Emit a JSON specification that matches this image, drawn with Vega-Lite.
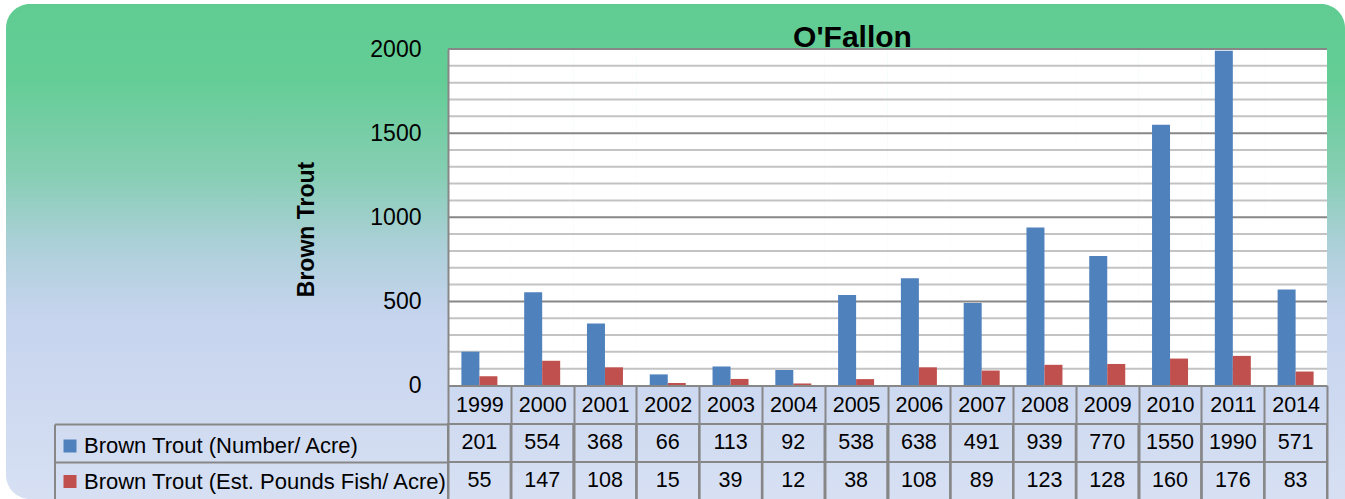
{
  "$schema": "https://vega.github.io/schema/vega-lite/v6.json",
  "width": 1339,
  "height": 495,
  "autosize": {"type": "none"},
  "padding": {"left": 6, "top": 4, "right": 0, "bottom": 0},
  "background": "white",
  "config": {"view": {"stroke": null}, "font": "Liberation Sans"},
  "title": {
    "text": "O'Fallon",
    "anchor": "middle",
    "frame": "group",
    "dx": 177,
    "offset": -73,
    "baseline": "alphabetic",
    "font": "Liberation Sans",
    "fontSize": 30,
    "fontWeight": "bold",
    "color": "black"
  },
  "datasets": {
    "trout": [
      {"year": "1999", "series": "Brown Trout (Number/ Acre)", "value": 201},
      {"year": "1999", "series": "Brown Trout (Est. Pounds Fish/ Acre)", "value": 55},
      {"year": "2000", "series": "Brown Trout (Number/ Acre)", "value": 554},
      {"year": "2000", "series": "Brown Trout (Est. Pounds Fish/ Acre)", "value": 147},
      {"year": "2001", "series": "Brown Trout (Number/ Acre)", "value": 368},
      {"year": "2001", "series": "Brown Trout (Est. Pounds Fish/ Acre)", "value": 108},
      {"year": "2002", "series": "Brown Trout (Number/ Acre)", "value": 66},
      {"year": "2002", "series": "Brown Trout (Est. Pounds Fish/ Acre)", "value": 15},
      {"year": "2003", "series": "Brown Trout (Number/ Acre)", "value": 113},
      {"year": "2003", "series": "Brown Trout (Est. Pounds Fish/ Acre)", "value": 39},
      {"year": "2004", "series": "Brown Trout (Number/ Acre)", "value": 92},
      {"year": "2004", "series": "Brown Trout (Est. Pounds Fish/ Acre)", "value": 12},
      {"year": "2005", "series": "Brown Trout (Number/ Acre)", "value": 538},
      {"year": "2005", "series": "Brown Trout (Est. Pounds Fish/ Acre)", "value": 38},
      {"year": "2006", "series": "Brown Trout (Number/ Acre)", "value": 638},
      {"year": "2006", "series": "Brown Trout (Est. Pounds Fish/ Acre)", "value": 108},
      {"year": "2007", "series": "Brown Trout (Number/ Acre)", "value": 491},
      {"year": "2007", "series": "Brown Trout (Est. Pounds Fish/ Acre)", "value": 89},
      {"year": "2008", "series": "Brown Trout (Number/ Acre)", "value": 939},
      {"year": "2008", "series": "Brown Trout (Est. Pounds Fish/ Acre)", "value": 123},
      {"year": "2009", "series": "Brown Trout (Number/ Acre)", "value": 770},
      {"year": "2009", "series": "Brown Trout (Est. Pounds Fish/ Acre)", "value": 128},
      {"year": "2010", "series": "Brown Trout (Number/ Acre)", "value": 1550},
      {"year": "2010", "series": "Brown Trout (Est. Pounds Fish/ Acre)", "value": 160},
      {"year": "2011", "series": "Brown Trout (Number/ Acre)", "value": 1990},
      {"year": "2011", "series": "Brown Trout (Est. Pounds Fish/ Acre)", "value": 176},
      {"year": "2014", "series": "Brown Trout (Number/ Acre)", "value": 571},
      {"year": "2014", "series": "Brown Trout (Est. Pounds Fish/ Acre)", "value": 83}
    ],
    "grid": [
      {"g": 100}, {"g": 200}, {"g": 300}, {"g": 400}, {"g": 500},
      {"g": 600}, {"g": 700}, {"g": 800}, {"g": 900}, {"g": 1000},
      {"g": 1100}, {"g": 1200}, {"g": 1300}, {"g": 1400}, {"g": 1500},
      {"g": 1600}, {"g": 1700}, {"g": 1800}, {"g": 1900}, {"g": 2000}
    ]
  },
  "data": {"name": "trout"},
  "layer": [
    {
      "layer": [
        {
          "data": {"values": [{}]},
          "mark": {
            "type": "rect",
            "cornerRadiusTopLeft": 24,
            "cornerRadiusTopRight": 24,
            "cornerRadiusBottomLeft": 24,
            "fill": {
              "gradient": "linear",
              "x1": 0, "y1": 0, "x2": 0, "y2": 1,
              "stops": [
                {"offset": 0, "color": "#60CC92"},
                {"offset": 0.15, "color": "#63CD95"},
                {"offset": 0.34, "color": "#86CEB3"},
                {"offset": 0.5, "color": "#AFD0DB"},
                {"offset": 0.63, "color": "#C6D4EE"},
                {"offset": 1, "color": "#D7E0F3"}
              ]
            }
          },
          "encoding": {
            "x": {"value": 0},
            "x2": {"value": "width"},
            "y": {"value": 0},
            "y2": {"value": "height"}
          }
        },
        {
          "mark": {"type": "rect", "fill": "white"},
          "encoding": {
            "x": {
              "field": "year", "type": "ordinal",
              "scale": {"range": [442, 1321], "paddingInner": 0, "paddingOuter": 0},
              "axis": {
                "orient": "bottom", "offset": -113.5, "title": null, "zindex": 1,
                "domain": true, "domainColor": "#878787", "domainWidth": 2,
                "ticks": true, "tickBand": "extent", "tickSize": 114.5, "tickColor": "#878787", "tickWidth": 2,
                "labelFont": "Liberation Sans", "labelFontSize": 21.5, "labelColor": "black",
                "labelAngle": 0, "labelBaseline": "middle", "labelPadding": -95,
                "labelFlush": false, "labelOverlap": false, "grid": false
              }
            },
            "y": {
              "datum": 0, "type": "quantitative",
              "scale": {"domain": [0, 2000], "range": [381.5, 45], "nice": false, "zero": true},
              "axis": {
                "orient": "left", "offset": -442, "values": [0, 500, 1000, 1500, 2000], "format": "d", "zindex": 1,
                "grid": false, "ticks": false, "domain": true, "domainColor": "#878787", "domainWidth": 2,
                "labelFont": "Liberation Sans", "labelFontSize": 23, "labelColor": "black", "labelPadding": 27,
                "labelBaseline": "middle", "labelFlush": false,
                "title": "Brown Trout", "titleFont": "Liberation Sans", "titleFontSize": 23, "titleFontWeight": "bold",
                "titleColor": "black", "titleX": -135, "titleY": 225, "titleBaseline": "alphabetic", "titleAngle": -90, "titleAlign": "center"
              }
            },
            "y2": {"datum": 2000}
          }
        },
        {
          "data": {"name": "grid"},
          "mark": {"type": "rule", "strokeWidth": 2},
          "encoding": {
            "x": {
              "datum": "1999", "type": "ordinal", "bandPosition": 0,
              "scale": {"range": [442, 1321], "paddingInner": 0, "paddingOuter": 0},
              "axis": {
                "orient": "bottom", "offset": -113.5, "title": null, "zindex": 1,
                "domain": true, "domainColor": "#878787", "domainWidth": 2,
                "ticks": true, "tickBand": "extent", "tickSize": 114.5, "tickColor": "#878787", "tickWidth": 2,
                "labelFont": "Liberation Sans", "labelFontSize": 21.5, "labelColor": "black",
                "labelAngle": 0, "labelBaseline": "middle", "labelPadding": -95,
                "labelFlush": false, "labelOverlap": false, "grid": false
              }
            },
            "x2": {"datum": "2014", "bandPosition": 1},
            "y": {
              "field": "g", "type": "quantitative",
              "scale": {"domain": [0, 2000], "range": [381.5, 45], "nice": false, "zero": true},
              "axis": {
                "orient": "left", "offset": -442, "values": [0, 500, 1000, 1500, 2000], "format": "d", "zindex": 1,
                "grid": false, "ticks": false, "domain": true, "domainColor": "#878787", "domainWidth": 2,
                "labelFont": "Liberation Sans", "labelFontSize": 23, "labelColor": "black", "labelPadding": 27,
                "labelBaseline": "middle", "labelFlush": false,
                "title": "Brown Trout", "titleFont": "Liberation Sans", "titleFontSize": 23, "titleFontWeight": "bold",
                "titleColor": "black", "titleX": -135, "titleY": 225, "titleBaseline": "alphabetic", "titleAngle": -90, "titleAlign": "center"
              }
            },
            "color": {
              "condition": {"test": "datum.g % 500 === 0", "value": "#878787"},
              "value": "#C3C3C3"
            }
          }
        },
        {
          "mark": {"type": "bar"},
          "encoding": {
            "x": {
              "field": "year", "type": "ordinal",
              "scale": {"range": [442, 1321], "paddingInner": 0, "paddingOuter": 0},
              "axis": {
                "orient": "bottom", "offset": -113.5, "title": null, "zindex": 1,
                "domain": true, "domainColor": "#878787", "domainWidth": 2,
                "ticks": true, "tickBand": "extent", "tickSize": 114.5, "tickColor": "#878787", "tickWidth": 2,
                "labelFont": "Liberation Sans", "labelFontSize": 21.5, "labelColor": "black",
                "labelAngle": 0, "labelBaseline": "middle", "labelPadding": -95,
                "labelFlush": false, "labelOverlap": false, "grid": false
              }
            },
            "xOffset": {
              "field": "series", "type": "nominal",
              "scale": {"domain": ["Brown Trout (Number/ Acre)", "Brown Trout (Est. Pounds Fish/ Acre)"], "paddingInner": 0, "paddingOuter": 0.744}
            },
            "y": {
              "field": "value", "type": "quantitative",
              "scale": {"domain": [0, 2000], "range": [381.5, 45], "nice": false, "zero": true},
              "axis": {
                "orient": "left", "offset": -442, "values": [0, 500, 1000, 1500, 2000], "format": "d", "zindex": 1,
                "grid": false, "ticks": false, "domain": true, "domainColor": "#878787", "domainWidth": 2,
                "labelFont": "Liberation Sans", "labelFontSize": 23, "labelColor": "black", "labelPadding": 27,
                "labelBaseline": "middle", "labelFlush": false,
                "title": "Brown Trout", "titleFont": "Liberation Sans", "titleFontSize": 23, "titleFontWeight": "bold",
                "titleColor": "black", "titleX": -135, "titleY": 225, "titleBaseline": "alphabetic", "titleAngle": -90, "titleAlign": "center"
              }
            },
            "color": {
              "field": "series", "type": "nominal",
              "scale": {"domain": ["Brown Trout (Number/ Acre)", "Brown Trout (Est. Pounds Fish/ Acre)"], "range": ["#4F81BD", "#C0504D"]},
              "legend": {
                "orient": "none", "legendX": 53, "legendY": 431, "title": null, "direction": "vertical",
                "symbolType": "square", "symbolSize": 169, "symbolStrokeWidth": 0, "symbolOpacity": 1,
                "labelFont": "Liberation Sans", "labelFontSize": 22, "labelColor": "black", "labelLimit": 600,
                "labelOffset": 3, "rowPadding": 13.5, "padding": 0, "zindex": 1
              }
            }
          }
        }
      ]
    },
    {
      "layer": [
        {
          "mark": {"type": "rect", "fill": "transparent", "stroke": "#878787", "strokeWidth": 2},
          "encoding": {
            "x": {
              "field": "year", "type": "ordinal",
              "scale": {"range": [442, 1321], "paddingInner": 0, "paddingOuter": 0},
              "axis": {
                "orient": "bottom", "offset": -113.5, "title": null, "zindex": 1,
                "domain": true, "domainColor": "#878787", "domainWidth": 2,
                "ticks": true, "tickBand": "extent", "tickSize": 114.5, "tickColor": "#878787", "tickWidth": 2,
                "labelFont": "Liberation Sans", "labelFontSize": 21.5, "labelColor": "black",
                "labelAngle": 0, "labelBaseline": "middle", "labelPadding": -95,
                "labelFlush": false, "labelOverlap": false, "grid": false
              }
            },
            "y": {
              "field": "series", "type": "nominal",
              "scale": {"domain": ["Brown Trout (Number/ Acre)", "Brown Trout (Est. Pounds Fish/ Acre)"], "range": [420, 496], "paddingInner": 0, "paddingOuter": 0},
              "axis": {
                "orient": "left", "offset": -48.5, "title": null, "labels": false, "zindex": 1,
                "domain": true, "domainColor": "#878787", "domainWidth": 2,
                "ticks": true, "tickBand": "extent", "tickSize": -393.5, "tickColor": "#878787", "tickWidth": 2,
                "grid": false
              }
            }
          }
        },
        {
          "mark": {"type": "text", "font": "Liberation Sans", "fontSize": 21.5, "color": "black", "align": "center", "baseline": "middle"},
          "encoding": {
            "x": {
              "field": "year", "type": "ordinal",
              "scale": {"range": [442, 1321], "paddingInner": 0, "paddingOuter": 0},
              "axis": {
                "orient": "bottom", "offset": -113.5, "title": null, "zindex": 1,
                "domain": true, "domainColor": "#878787", "domainWidth": 2,
                "ticks": true, "tickBand": "extent", "tickSize": 114.5, "tickColor": "#878787", "tickWidth": 2,
                "labelFont": "Liberation Sans", "labelFontSize": 21.5, "labelColor": "black",
                "labelAngle": 0, "labelBaseline": "middle", "labelPadding": -95,
                "labelFlush": false, "labelOverlap": false, "grid": false
              }
            },
            "y": {
              "field": "series", "type": "nominal",
              "scale": {"domain": ["Brown Trout (Number/ Acre)", "Brown Trout (Est. Pounds Fish/ Acre)"], "range": [420, 496], "paddingInner": 0, "paddingOuter": 0},
              "axis": {
                "orient": "left", "offset": -48.5, "title": null, "labels": false, "zindex": 1,
                "domain": true, "domainColor": "#878787", "domainWidth": 2,
                "ticks": true, "tickBand": "extent", "tickSize": -393.5, "tickColor": "#878787", "tickWidth": 2,
                "grid": false
              }
            },
            "text": {"field": "value", "type": "quantitative", "format": "d"}
          }
        }
      ]
    }
  ],
  "resolve": {"scale": {"y": "independent"}, "axis": {"y": "independent"}}
}
